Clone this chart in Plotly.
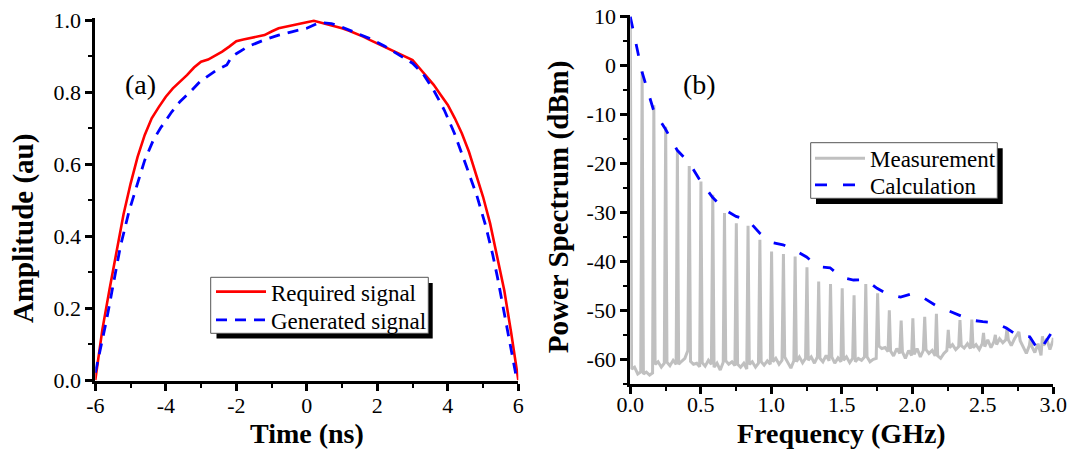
import plotly.graph_objects as go

# ---------------- Panel (a) data ----------------
req_time = [-6.0, -5.8, -5.6, -5.4, -5.2, -5.0, -4.8, -4.6, -4.4, -4.2, -4.0, -3.8, -3.6, -3.4,
            -3.2, -3.0, -2.8, -2.6, -2.4, -2.2, -2.0, -1.8, -1.6, -1.4, -1.2, -1.0, -0.8, -0.6,
            -0.4, -0.2, 0.0, 0.2, 0.4, 0.6, 0.8, 1.0, 1.2, 1.4, 1.6, 1.8, 2.0, 2.2, 2.4, 2.6,
            2.8, 3.0, 3.2, 3.4, 3.6, 3.8, 4.0, 4.2, 4.4, 4.6, 4.8, 5.0, 5.2, 5.4, 5.6, 5.8, 6.0]
req_amp = [0.0, 0.14, 0.25, 0.36, 0.46, 0.545, 0.62, 0.68, 0.727, 0.758, 0.787, 0.81, 0.828, 0.847,
           0.868, 0.884, 0.89, 0.9, 0.912, 0.926, 0.941, 0.946, 0.95, 0.954, 0.958, 0.968, 0.977, 0.981,
           0.986, 0.991, 0.994, 0.998, 0.993, 0.988, 0.983, 0.977, 0.97, 0.963, 0.954, 0.944, 0.935, 0.926,
           0.917, 0.907, 0.9, 0.889, 0.866, 0.843, 0.82, 0.792, 0.764, 0.727, 0.685, 0.634, 0.574,
           0.509, 0.435, 0.347, 0.25, 0.13, 0.0]
gen_time = [-6.0, -5.82, -5.68, -5.53, -5.29, -5.04, -4.8, -4.6, -4.36, -4.15, -3.99, -3.83, -3.6,
            -3.31, -3.03, -2.75, -2.56, -2.27, -2.13, -1.99, -1.67, -1.2, -0.8, -0.4, 0.0, 0.35, 0.7,
            1.0, 1.4, 1.8, 2.2, 2.6, 3.0, 3.3, 3.6, 3.9, 4.19, 4.53, 4.83, 5.07, 5.27, 5.41, 5.53,
            5.65, 5.72, 5.81, 5.88, 5.95]
gen_amp = [0.02, 0.1, 0.167, 0.245, 0.37, 0.47, 0.545, 0.61, 0.665, 0.7, 0.722, 0.745, 0.773,
           0.8, 0.829, 0.847, 0.861, 0.875, 0.898, 0.907, 0.926, 0.945, 0.958, 0.968, 0.977, 0.993,
           0.99, 0.98, 0.965, 0.948, 0.928, 0.905, 0.88, 0.85, 0.805, 0.75, 0.685, 0.593, 0.51, 0.43,
           0.35, 0.285, 0.222, 0.167, 0.12, 0.083, 0.037, 0.005]

# ---------------- Panel (b) data ----------------
peak_freq = [0.000, 0.084, 0.167, 0.251, 0.334, 0.418, 0.501, 0.585, 0.668, 0.752, 0.835, 0.919,
             1.002, 1.086, 1.169, 1.253, 1.336, 1.420, 1.503, 1.587, 1.670, 1.754, 1.837, 1.921,
             2.004, 2.088, 2.171, 2.255, 2.338, 2.422, 2.505, 2.589, 2.672, 2.756, 2.839, 2.923]
peak_dbm = [10.0, -1.2, -8.1, -12.5, -17.5, -20.5, -23.7, -26.4, -30.1, -32.2, -32.7, -35.6,
            -38.0, -38.5, -39.0, -41.2, -44.1, -44.6, -45.5, -46.9, -44.6, -46.5, -50.0, -52.1,
            -51.6, -51.3, -50.7, -54.0, -52.0, -51.9, -54.6, -55.0, -53.6, -54.4, -55.5, -55.3]
# noise floor between harmonics, 4 readings per gap
noise_dbm = [
    -62.0, -61.6, -63.0, -62.6,  -63.0, -62.6, -63.2, -62.8,  -61.0, -60.5, -61.6, -60.8,
    -60.6, -61.3, -60.2, -61.0,  -61.0, -60.4, -59.8, -58.2,  -60.4, -61.0, -60.8, -61.5,
    -60.7, -61.4, -60.2, -61.0,  -61.6, -60.8, -62.2, -60.6,  -60.3, -61.0, -60.5, -61.3,
    -61.0, -61.6, -60.8, -62.0,  -61.0, -60.5, -61.6, -60.8,  -60.5, -61.2, -60.3, -61.0,
    -60.5, -59.8, -61.0, -60.2,  -59.5, -60.5, -61.8, -60.3,  -60.5, -59.5, -60.7, -59.8,
    -60.2, -59.5, -60.8, -59.5,  -59.8, -60.5, -59.2, -60.3,  -59.5, -60.8, -59.7, -60.5,
    -60.2, -59.5, -60.7, -59.8,  -60.5, -59.8, -60.2, -59.5,  -59.5, -60.5, -60.0, -59.8,
    -57.3, -57.8, -57.6, -58.4,  -58.3, -59.3, -57.8, -58.8,  -58.5, -59.8, -58.2, -59.2,
    -59.0, -57.8, -59.5, -58.2,  -58.0, -58.8, -58.2, -59.3,  -59.3, -59.8, -58.8, -58.2,
    -57.6, -57.0, -58.0, -57.4,  -57.2, -57.7, -56.8, -57.8,  -57.6, -57.0, -58.0, -56.8,
    -57.4, -56.0, -57.6, -56.4,  -57.0, -55.8, -56.6, -56.0,  -56.0, -57.2, -55.8, -55.0,
    -56.2, -57.4, -58.8, -57.2,  -57.4, -58.6, -56.8, -59.2,  -57.2, -55.8, -58.0, -56.2]
meas_end_freq = 3.0
meas_end_dbm = -55.6

calc_freq = [0.0, 0.083, 0.167, 0.25, 0.333, 0.417, 0.5, 0.583, 0.667, 0.75, 0.833, 0.917, 1.0,
             1.083, 1.167, 1.25, 1.333, 1.417, 1.5, 1.583, 1.667, 1.75, 1.833, 1.917, 2.0, 2.083,
             2.167, 2.25, 2.333, 2.417, 2.5, 2.583, 2.667, 2.75, 2.833, 2.9, 3.0]
calc_dbm = [10.0, -1.3, -9.3, -13.0, -17.3, -19.8, -23.7, -26.9, -29.4, -30.8, -31.5, -34.2,
            -36.1, -36.6, -37.7, -39.1, -41.1, -41.3, -43.3, -43.8, -43.7, -45.5, -46.8, -47.3,
            -46.6, -47.5, -49.0, -50.0, -51.0, -52.0, -52.3, -52.5, -53.6, -55.2, -55.4, -58.4, -54.0]

# tick labels
a_xticks = [-6, -4, -2, 0, 2, 4, 6]
a_xlabels = ["-6", "-4", "-2", "0", "2", "4", "6"]
a_yticks = [0.0, 0.2, 0.4, 0.6, 0.8, 1.0]
a_ylabels = ["0.0", "0.2", "0.4", "0.6", "0.8", "1.0"]
b_xticks = [0.0, 0.5, 1.0, 1.5, 2.0, 2.5, 3.0]
b_xlabels = ["0.0", "0.5", "1.0", "1.5", "2.0", "2.5", "3.0"]
b_yticks = [10, 0, -10, -20, -30, -40, -50, -60]
b_ylabels = ["10", "0", "-10", "-20", "-30", "-40", "-50", "-60"]

# build the measured spectrum trace from peaks + noise readings
noise_offsets = [0.009, 0.03, 0.053, 0.074]
meas_f, meas_v = [], []
for k, (f, p) in enumerate(zip(peak_freq, peak_dbm)):
    meas_f.append(f)
    meas_v.append(p)
    for j, off in enumerate(noise_offsets):
        meas_f.append(f + off)
        meas_v.append(noise_dbm[4 * k + j])
meas_f.append(meas_end_freq)
meas_v.append(meas_end_dbm)

W, H = 1071, 453
FONT = "Liberation Serif"


def px(x):
    return x / W


def py(y):
    return 1 - y / H


fig = go.Figure()
fig.add_trace(go.Scatter(x=req_time, y=req_amp, mode="lines", name="Required signal",
                         line=dict(color="#ff0000", width=2.6), xaxis="x", yaxis="y",
                         legend="legend"))
fig.add_trace(go.Scatter(x=gen_time, y=gen_amp, mode="lines", name="Generated signal",
                         line=dict(color="#0000ff", width=2.8, dash="11px,8px"),
                         xaxis="x", yaxis="y", legend="legend2"))
fig.add_trace(go.Scatter(x=meas_f, y=meas_v, mode="lines", name="Measurement",
                         line=dict(color="#c0c0c0", width=3.0), xaxis="x2", yaxis="y2",
                         legend="legend3"))
fig.add_trace(go.Scatter(x=calc_freq, y=calc_dbm, mode="lines", name="Calculation",
                         line=dict(color="#0000ff", width=2.8, dash="12px,16px"),
                         xaxis="x2", yaxis="y2", legend="legend4"))

axis_common = dict(showline=True, linecolor="black", linewidth=3, showgrid=False,
                   zeroline=False, ticks="outside", ticklen=7, tickwidth=2.5,
                   tickcolor="black", tickfont=dict(family=FONT, size=22, color="black"),
                   tickmode="array", automargin=False)


def legend_at(x, y):
    return dict(x=px(x), y=py(y), xanchor="left", yanchor="middle",
                bgcolor="rgba(0,0,0,0)", borderwidth=0, itemwidth=50,
                font=dict(family=FONT, size=23, color="black"))


fig.update_layout(
    width=W, height=H,
    margin=dict(l=0, r=0, t=0, b=0, pad=0, autoexpand=False),
    paper_bgcolor="white", plot_bgcolor="white",
    font=dict(family=FONT, color="black"),
    xaxis=dict(domain=[px(95.3), px(518.3)], range=[-6, 6], anchor="y",
               tickvals=a_xticks, ticktext=a_xlabels, ticklabelstandoff=-5,
               minor=dict(dtick=1, tick0=-6, ticks="outside", ticklen=4, tickwidth=2,
                          tickcolor="black"),
               **axis_common),
    yaxis=dict(domain=[py(381.1), py(18.2)], range=[-0.003, 1.005], anchor="x",
               tickvals=a_yticks, ticktext=a_ylabels,
               minor=dict(dtick=0.1, tick0=0, ticks="outside", ticklen=4, tickwidth=2,
                          tickcolor="black"),
               **axis_common),
    xaxis2=dict(domain=[px(630.3), px(1053.3)], range=[0, 3.0], anchor="y2",
                tickvals=b_xticks, ticktext=b_xlabels, ticklabelstandoff=-8,
                minor=dict(dtick=0.25, tick0=0, ticks="outside", ticklen=4, tickwidth=2,
                           tickcolor="black"),
                **axis_common),
    yaxis2=dict(domain=[py(383.8), py(15.2)], range=[-65, 10.3], anchor="x2",
                tickvals=b_yticks, ticktext=b_ylabels,
                minor=dict(dtick=5, tick0=0, ticks="outside", ticklen=4, tickwidth=2,
                           tickcolor="black"),
                **axis_common),
    showlegend=True,
    legend=legend_at(211.0, 291.7),
    legend2=legend_at(211.0, 320.0),
    legend3=legend_at(810.0, 158.3),
    legend4=legend_at(810.0, 185.0),
)

# legend boxes with drop shadows
shapes = []
for (x0, y0, x1, y1), (sx0, sy0, sx1, sy1) in [
        ((210.7, 277.3, 428.3, 333.3), (216.5, 283.0, 432.7, 338.5)),
        ((810.7, 142.7, 997.3, 198.3), (816.0, 148.3, 1002.7, 204.0))]:
    shapes.append(dict(type="rect", xref="paper", yref="paper", x0=px(sx0), x1=px(sx1),
                       y0=py(sy1), y1=py(sy0), fillcolor="black", line=dict(width=0),
                       layer="above"))
    shapes.append(dict(type="rect", xref="paper", yref="paper", x0=px(x0), x1=px(x1),
                       y0=py(y1), y1=py(y0), fillcolor="white",
                       line=dict(color="#555555", width=1), layer="above"))
fig.update_layout(shapes=shapes)

annos = [
    dict(text="<b>Time (ns)</b>", x=px(306.8), y=py(433.5), textangle=0, size=28),
    dict(text="<b>Amplitude (au)</b>", x=px(23), y=py(229), textangle=-90, size=29),
    dict(text="<b>Frequency (GHz)</b>", x=px(841.8), y=py(433.5), textangle=0, size=28),
    dict(text="<b>Power Spectrum (dBm)</b>", x=px(558.5), y=py(206.7), textangle=-90, size=29),
    dict(text="(a)", x=px(140.8), y=py(85), textangle=0, size=28),
    dict(text="(b)", x=px(699.2), y=py(85), textangle=0, size=28),
]
for a in annos:
    fig.add_annotation(text=a["text"], x=a["x"], y=a["y"], xref="paper", yref="paper",
                       xanchor="center", yanchor="middle", showarrow=False,
                       textangle=a["textangle"],
                       font=dict(family=FONT, size=a["size"], color="black"))

fig.write_html("out.html")
